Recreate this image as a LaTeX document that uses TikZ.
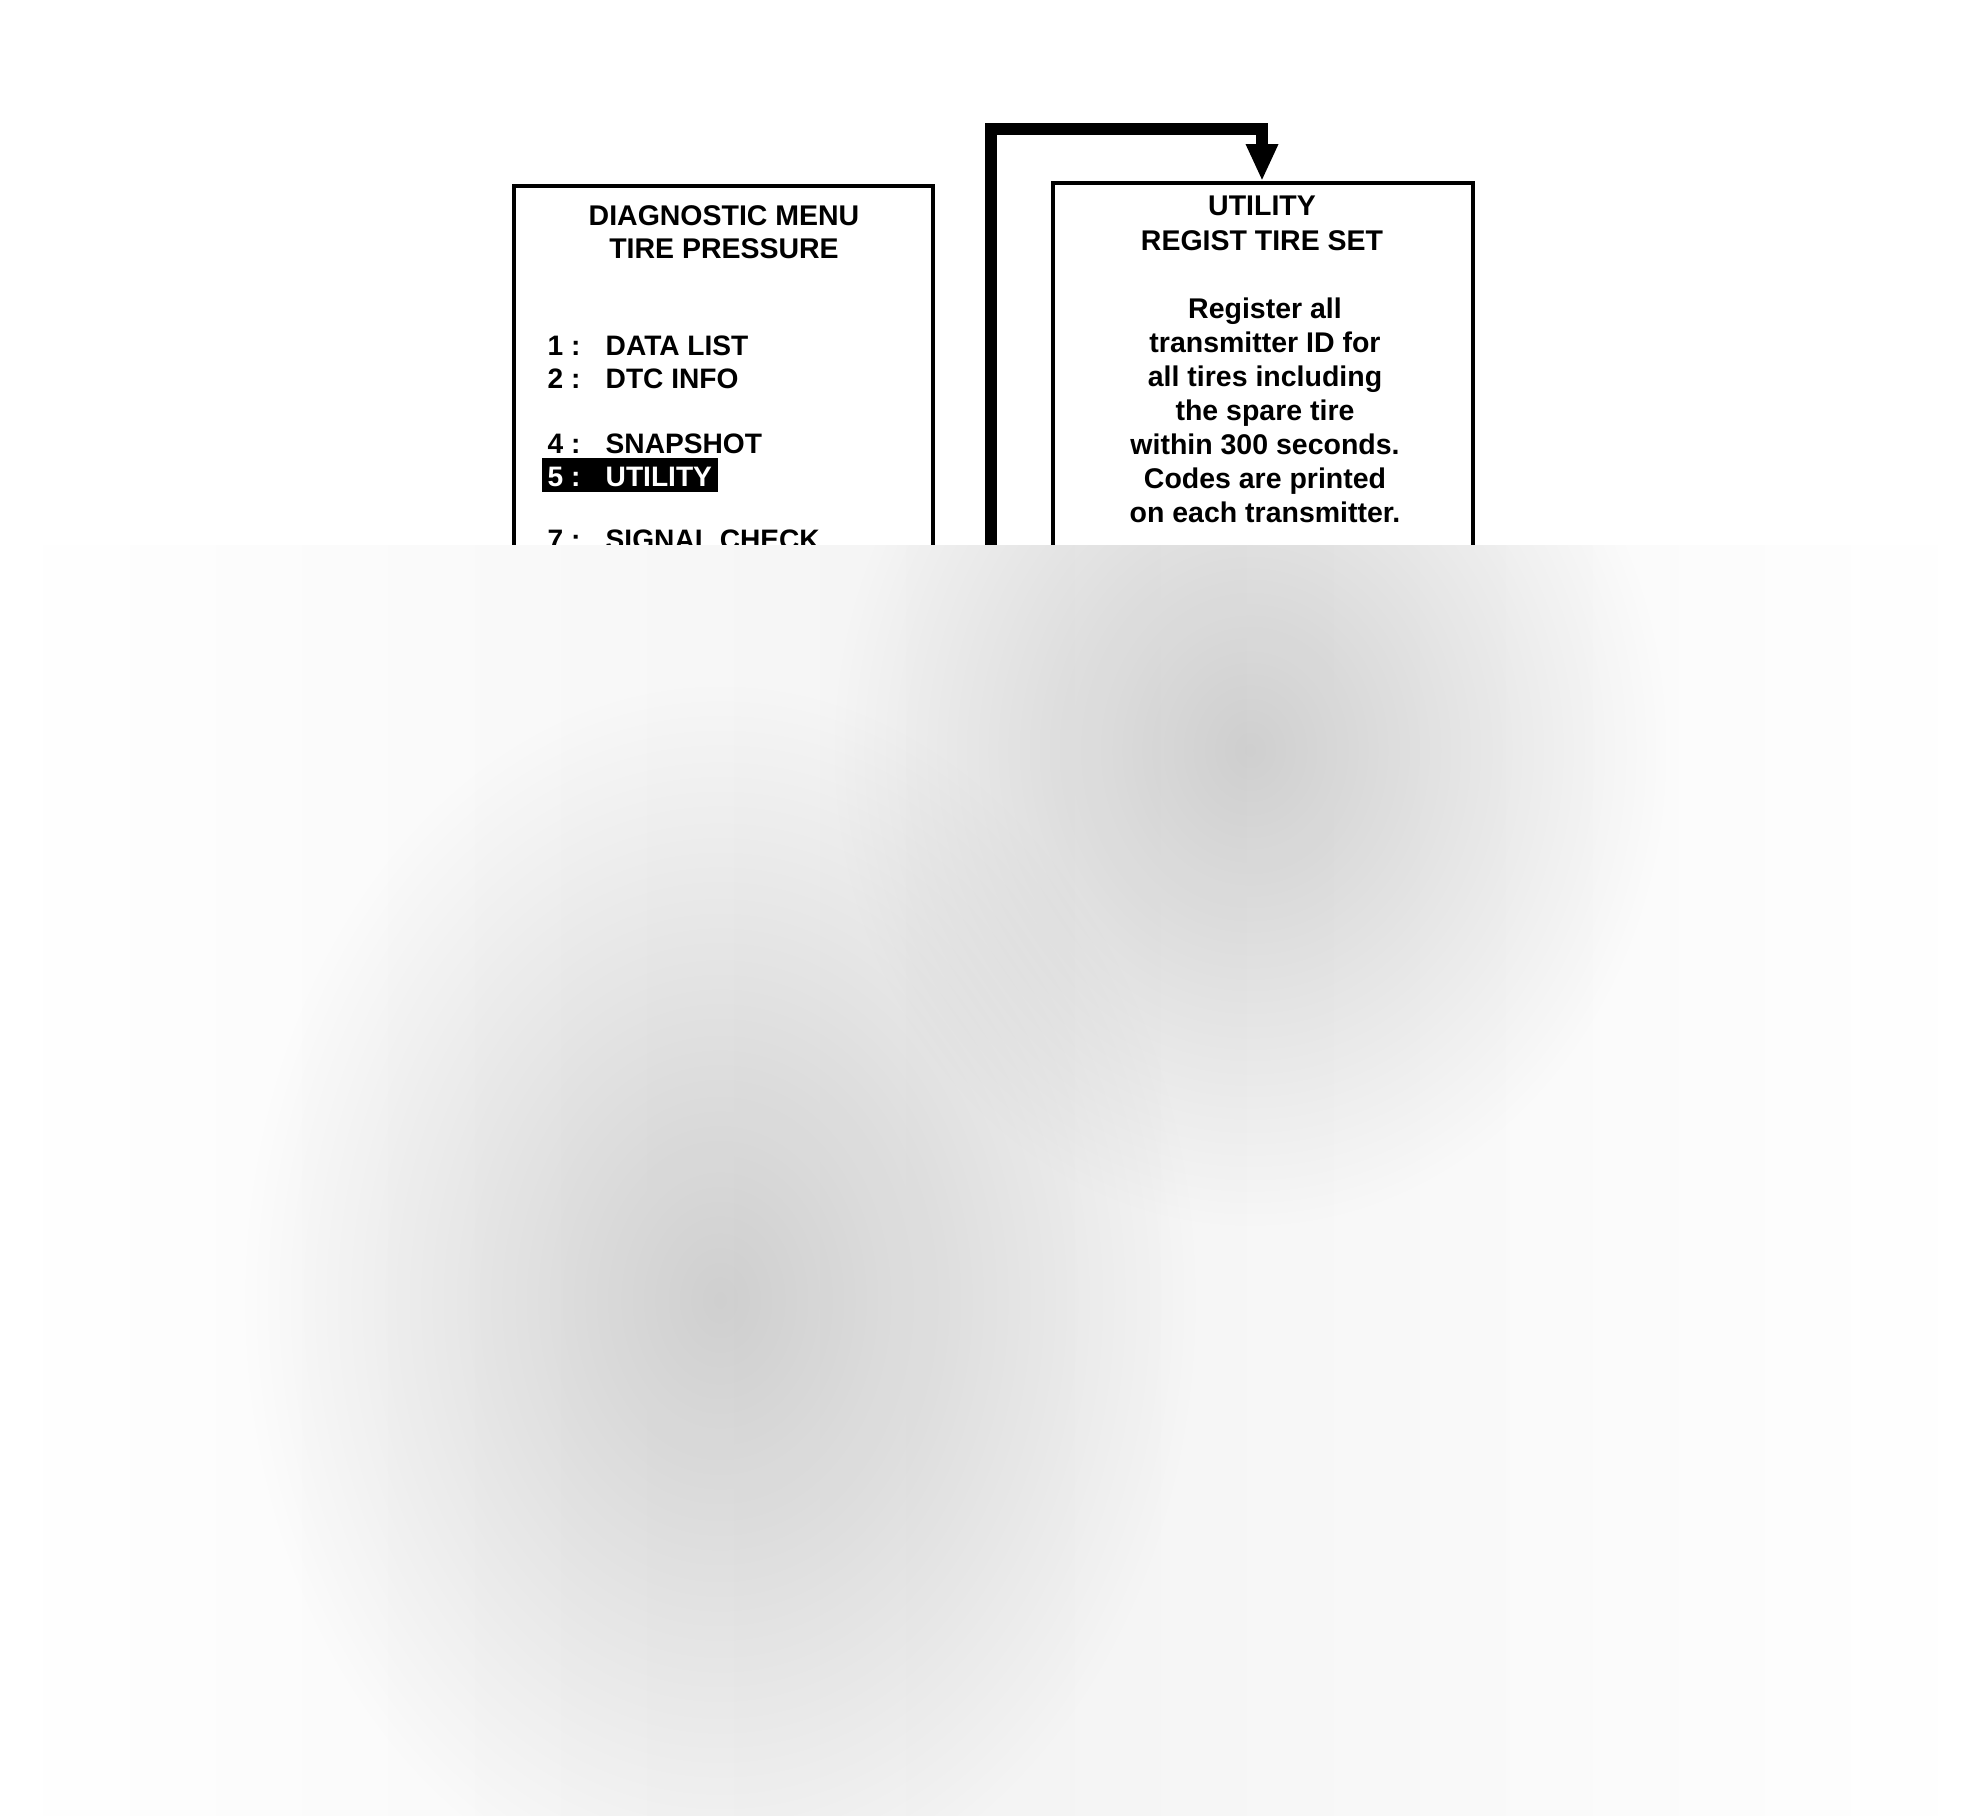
\documentclass[tikz,border=0pt]{standalone}
\usepackage{fontspec}
\setmainfont{Liberation Sans}
\usetikzlibrary{arrows.meta,fadings}

\tikzfading[name=softblob,inner color=transparent!0,outer color=transparent!100]

\tikzset{
  menutxt/.style={anchor=base west,inner sep=0pt,font=\bfseries\fontsize{8}{9.6}\selectfont},
  midtxt/.style={anchor=base,inner sep=0pt,font=\bfseries\fontsize{8.1}{9.6}\selectfont},
  frame/.style={line width=0.9pt},
  loop/.style={line width=3.4pt,-{Triangle[width=8.5pt,length=10.5pt]}},
  haze/.style={fill=black,opacity=0.16,path fading=softblob}
}

\begin{document}
\begin{tikzpicture}[x=0.01cm,y=-0.01cm]
        \useasboundingbox(0,0)rectangle(1980,1815);

        % left screen: diagnostic menu
        \draw[frame](514,560)--(514,186)--(933,186)--(933,560);
        \node[midtxt](menuA)at(724,225){DIAGNOSTIC MENU};
        \node[midtxt](menuB)at(724,258){TIRE PRESSURE};

        \node[menutxt](n1)at(547,355){1 :};
        \node[menutxt](i1)at(605,355){DATA LIST};
        \node[menutxt](n2)at(547,388){2 :};
        \node[menutxt](i2)at(605,388){DTC INFO};
        \node[menutxt](n4)at(547,453){4 :};
        \node[menutxt](i4)at(605,453){SNAPSHOT};
        \fill[black](542,458)rectangle(718,492);
        \node[menutxt,text=white](n5)at(547,486){5 :};
        \node[menutxt,text=white](i5)at(605,486){UTILITY};
        \node[menutxt](n7)at(547,549){7 :};
        \node[menutxt](i7)at(605,549){SIGNAL CHECK};

        % right screen: utility
        \draw[frame](1053,560)--(1053,183)--(1473,183)--(1473,560);
        \coordinate(utiltop)at(1262,181);
        \node[midtxt](uA)at(1262,215){UTILITY};
        \node[midtxt](uB)at(1262,250){REGIST TIRE SET};
        \node[midtxt](b1)at(1265,318){Register all};
        \node[midtxt](b2)at(1265,352){transmitter ID for};
        \node[midtxt](b3)at(1265,386){all tires including};
        \node[midtxt](b4)at(1265,420){the spare tire};
        \node[midtxt](b5)at(1265,454){within 300 seconds.};
        \node[midtxt](b6)at(1265,488){Codes are printed};
        \node[midtxt](b7)at(1265,522){on each transmitter.};

        % return line into the utility screen
        \coordinate(loopstart)at(991,560);
        \coordinate(bend)at(991,129);
        \draw[loop](loopstart)--(bend)-|(utiltop);

        % covered lower part
        \begin{scope}
          \clip(0,545)rectangle(1980,1815);
          \shade[left color=white,right color=white,middle color=gray!9](0,545)rectangle(1980,1815);
          \fill[haze](720,1300)ellipse(480 and 620);
          \fill[haze](1250,750)ellipse(420 and 480);
        \end{scope}
    \end{tikzpicture}
\end{document}
